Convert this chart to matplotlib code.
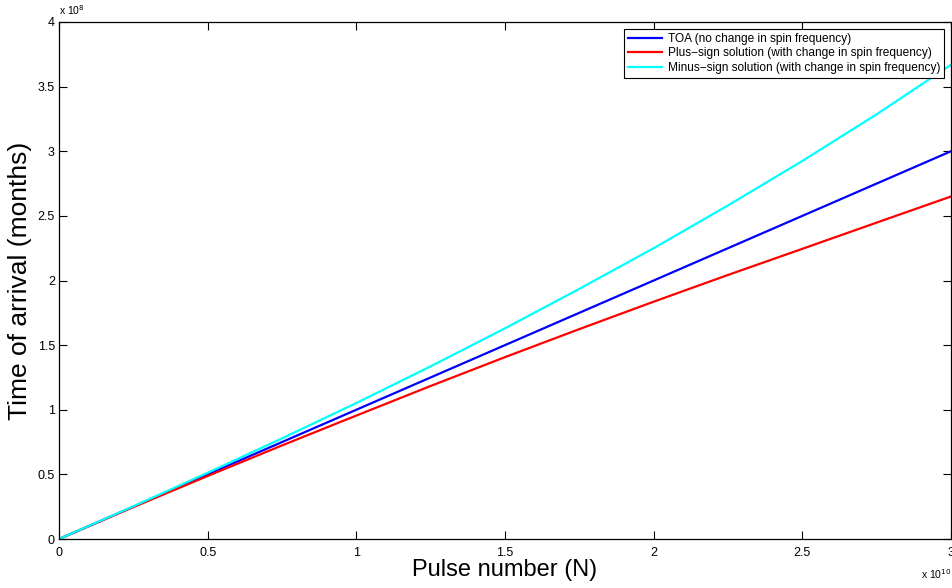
import numpy as np
import matplotlib.pyplot as plt
from matplotlib.ticker import FuncFormatter, MultipleLocator

plt.rcParams['font.family'] = ['Liberation Sans', 'DejaVu Sans']

# pulse number and times of arrival
pulses = np.array([0, 0.25, 0.5, 0.75, 1.0, 1.25, 1.5, 1.75, 2.0, 2.25, 2.5, 2.75, 3.0]) * 1e10
toa = np.array([0, 0.25, 0.5, 0.75, 1.0, 1.25, 1.5, 1.75, 2.0, 2.25, 2.5, 2.75, 3.0]) * 1e8
plus_sol = np.array([0, 0.247, 0.4875, 0.724, 0.955, 1.184, 1.407, 1.624, 1.836, 2.043, 2.245, 2.448, 2.65]) * 1e8
minus_sol = np.array([0, 0.253, 0.5125, 0.7785, 1.052, 1.336, 1.63, 1.9355, 2.25, 2.581, 2.925, 3.286, 3.669]) * 1e8

labels = ["TOA (no change in spin frequency)",
          "Plus\u2212sign solution (with change in spin frequency)",
          "Minus\u2212sign solution (with change in spin frequency)"]

fig = plt.figure(figsize=(9.53, 5.88), dpi=100)
ax = fig.add_axes([59/953, 49/588, 892/953, 517/588])

ax.plot(pulses, toa, color="#0000ff", lw=1.6, label=labels[0])
ax.plot(pulses, plus_sol, color="#ff0000", lw=1.6, label=labels[1])
ax.plot(pulses, minus_sol, color="#00ffff", lw=1.6, label=labels[2])

ax.set_xlim(0, 3e10)
ax.set_ylim(0, 4e8)
ax.xaxis.set_major_locator(MultipleLocator(0.5e10))
ax.yaxis.set_major_locator(MultipleLocator(0.5e8))
ax.xaxis.set_major_formatter(FuncFormatter(lambda v, p: "%g" % round(v / 1e10, 2)))
ax.yaxis.set_major_formatter(FuncFormatter(lambda v, p: "%g" % round(v / 1e8, 2)))
ax.tick_params(direction="in", length=6, width=0.8, top=True, right=True, labelsize=9)
ax.tick_params(axis="x", pad=5.5)
ax.tick_params(axis="y", pad=3)
for s in ax.spines.values():
    s.set_linewidth(0.9)

ax.set_xlabel("Pulse number (N)", fontsize=17, labelpad=0)
ax.set_ylabel("Time of arrival (months)", fontsize=19, labelpad=4)

ax.text(0.0, 1.01, r"x 10$^{8}$", transform=ax.transAxes, fontsize=7.5, ha="left", va="bottom")
ax.text(1.0, -0.055, r"x 10$^{10}$", transform=ax.transAxes, fontsize=7.5, ha="right", va="top")

leg = ax.legend(loc="upper right", fontsize=8.6, fancybox=False, framealpha=1,
                edgecolor="black", borderpad=0.35, labelspacing=0.22, handlelength=2.9,
                handletextpad=0.45, borderaxespad=0.55)
leg.get_frame().set_linewidth(0.8)

fig.savefig("out.png", dpi=100)
